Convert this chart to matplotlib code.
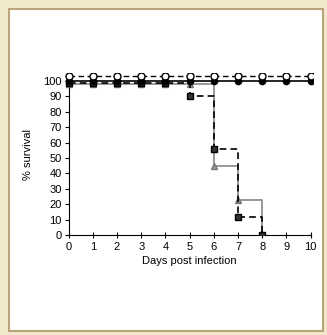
import matplotlib
matplotlib.use("Agg")
import matplotlib.pyplot as plt
from matplotlib.patches import Rectangle

days_all = list(range(11))
open_circle = [103] * 11
filled_circle = [100] * 11
days_sq = list(range(9))
squares = [99, 99, 99, 99, 99, 90, 56, 12, 0]
days_tri = list(range(9))
triangles = [98, 98, 98, 98, 98, 98, 45, 23, 0]
xticks = list(range(11))
yticks = list(range(0, 101, 10))

plt.rcParams['font.family'] = ['Liberation Sans', 'DejaVu Sans']
fig = plt.figure(figsize=(3.27, 3.35), dpi=100)
fig.patch.set_facecolor('#f2e9cc')
W, H = 327, 335
fig.patches.append(Rectangle((9 / W, 4 / H), (323 - 9) / W, (326 - 4) / H,
                             transform=fig.transFigure, facecolor='white',
                             edgecolor='#b9a47c', linewidth=1.5, zorder=-5))

ax = fig.add_axes([65 / W, 1 - 235 / H, (313 - 65) / W, (235 - 73.3) / H])
ax.set_zorder(5)
ax.set_facecolor('none')

ax.plot(days_tri, triangles, drawstyle='steps-post', color='#888888', lw=1.2,
        zorder=2)
ax.plot(days_tri, triangles, ls='none', marker='^', ms=4, color='#999999',
        mec='#777777', zorder=3)
ax.plot(days_sq, squares, drawstyle='steps-post', color='black', lw=1.2,
        ls=(0, (4, 2.5)), zorder=4)
ax.plot(days_sq, squares, ls='none', marker='s', ms=4, color='#333333',
        mec='black', zorder=5)
ax.plot(days_all, filled_circle, color='black', lw=1.2, marker='o', ms=4.5,
        mfc='black', mec='black', zorder=6)
ax.plot(days_all, open_circle, color='black', lw=1.0, ls=(0, (4, 2.5)),
        marker='o', ms=5, mfc='white', mec='black', mew=1.0, zorder=7)

ax.set_xlim(-0.15, 10.1)
ax.set_ylim(0, 105)
ax.spines['top'].set_visible(False)
ax.spines['right'].set_visible(False)
ax.spines['left'].set_bounds(0, 100)
ax.spines['bottom'].set_bounds(0, 10)
ax.spines['left'].set_position(('data', 0))
ax.set_xticks(xticks)
ax.set_yticks(yticks)
ax.tick_params(axis='both', labelsize=8, length=3, width=0.8, direction='out',
               pad=2)
ax.tick_params(axis='x', direction='inout', length=4, pad=3)
ax.set_xlabel('Days post infection', fontsize=8, labelpad=3)
ax.set_ylabel('% survival', fontsize=8, labelpad=7)

fig.savefig('out.png', dpi=100, facecolor=fig.get_facecolor())
